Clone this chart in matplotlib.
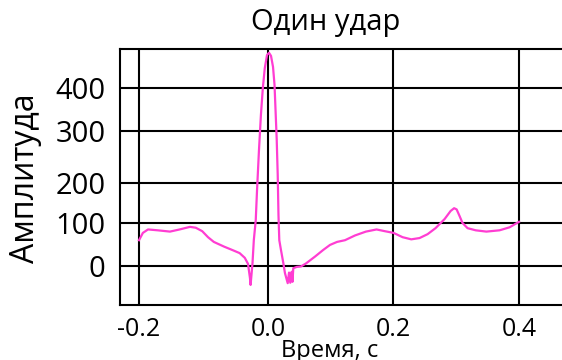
import matplotlib
matplotlib.use('Agg')
import matplotlib.pyplot as plt
import numpy as np

plt.rcParams['font.family'] = ['Open Sans', 'DejaVu Sans']
dpi = 100

# Curve (time in s, amplitude)
time_s = [-0.200, -0.194, -0.186, -0.171, -0.152, -0.137, -0.121, -0.112, -0.102,
          -0.093, -0.084, -0.068, -0.055, -0.044, -0.036, -0.031, -0.028, -0.027,
          -0.024, -0.022, -0.019, -0.017, -0.014, -0.011, -0.008, -0.005, -0.0015,
          0.0016, 0.0048, 0.008, 0.0104, 0.012, 0.0139, 0.0155, 0.0167, 0.018,
          0.0207, 0.0244, 0.027, 0.0314, 0.0335, 0.0355, 0.0378, 0.039, 0.0403,
          0.046, 0.0526, 0.0606, 0.075, 0.0877, 0.0988, 0.110, 0.1227, 0.1386,
          0.156, 0.173, 0.186, 0.200, 0.2145, 0.2283, 0.2415, 0.2543, 0.267,
          0.2815, 0.291, 0.2966, 0.3006, 0.3054, 0.310, 0.318, 0.331, 0.348,
          0.369, 0.385, 0.400]
amplitude = [60, 77, 85, 83, 80, 85, 91, 89, 81,
             67, 56, 45, 37, 30, 19, 5, -27, -43,
             7, 60, 107, 182, 263, 337, 400, 445, 475,
             480, 473, 448, 407, 349, 283, 215, 120, 60,
             37, 7, -16, -39, -15, -38, -13, -36, -5,
             -2, -1, 6, 22, 37, 49, 56, 60, 71,
             80, 85, 81, 77, 67, 62, 65, 74, 88,
             110, 130, 137, 134, 117, 100, 88, 83, 80,
             83, 90, 103]

x_ticks = [-0.2, 0.0, 0.2, 0.4]
x_ticklabels = ['-0.2', '0.0', '0.2', '0.4']
y_ticks = [0, 100, 200, 300, 400]
y_ticklabels = ['0', '100', '200', '300', '400']

# The source picture has slightly uneven grid spacing; reproduce it with
# piecewise-linear scales anchored at the grid lines (pixel positions).
xk = np.array([-0.3, -0.2, 0.0, 0.2, 0.4, 0.8])
xp = np.array([74.4, 139.0, 268.0, 393.5, 519.0, 769.6])
yk = np.array([-100, 0, 100, 200, 300, 400, 500])
yp = np.array([310.0, 266.0, 223.0, 183.0, 131.0, 88.0, 44.0])

def fx(v):
    return np.interp(v, xk, xp)

def fx_inv(p):
    return np.interp(p, xp, xk)

def fy(v):
    return -np.interp(v, yk, yp)

def fy_inv(p):
    return np.interp(p, -yp, yk)

W, H = 562, 360
xlim = (-0.23, 0.5)
ylim = (-88, 488)
left_px, right_px = fx(xlim[0]), fx(xlim[1])
top_px, bot_px = -fy(ylim[1]), -fy(ylim[0])

fig = plt.figure(figsize=(W / dpi, H / dpi), dpi=dpi)
ax = fig.add_axes([left_px / W, 1 - bot_px / H,
                   (right_px - left_px) / W, (bot_px - top_px) / H])
ax.set_xscale('function', functions=(fx, fx_inv))
ax.set_yscale('function', functions=(fy, fy_inv))

ax.plot(time_s, amplitude, color='#ff3dd2', linewidth=1.6, zorder=3)

ax.set_xlim(*xlim)
ax.set_ylim(*ylim)
ax.set_xticks(x_ticks)
ax.set_xticklabels(x_ticklabels)
ax.set_yticks(y_ticks)
ax.set_yticklabels(y_ticklabels)
ax.minorticks_off()
ax.tick_params(axis='x', length=0, pad=9, labelsize=18)
ax.tick_params(axis='y', length=0, pad=10, labelsize=21)

# horizontal grid via the axis, vertical grid lines drawn at the x ticks
ax.grid(True, axis='y', color='black', linewidth=1.5)
for xt in x_ticks:
    ax.axvline(xt, color='black', linewidth=1.5, zorder=2)

for s in ax.spines.values():
    s.set_linewidth(1.5)
    s.set_color('black')
ax.spines['right'].set_visible(False)

fig.text(326 / W, 1 - 30 / H, 'Один удар', ha='center', va='baseline', fontsize=21)
fig.text(330 / W, 1 - 357 / H, 'Время, с', ha='center', va='baseline', fontsize=17)
fig.text(26 / W, 1 - 178 / H, 'Амплитуда', ha='center', va='center',
         rotation=90, fontsize=23)

fig.savefig('out.png', dpi=dpi)
